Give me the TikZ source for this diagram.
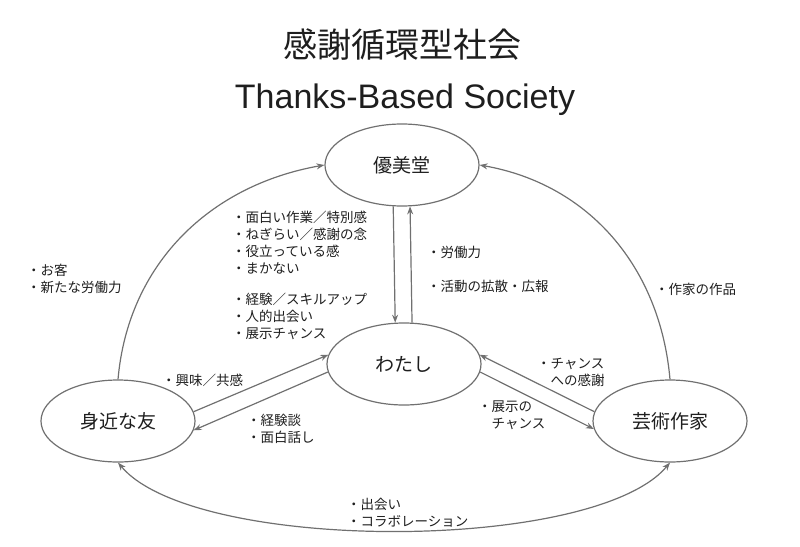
\documentclass[tikz,border=0pt]{standalone}
\usepackage{fontspec}
\setmainfont{Liberation Sans}
\newfontfamily\jp{Noto Sans CJK JP}
\usetikzlibrary{arrows.meta,shapes.geometric}
\definecolor{linegray}{RGB}{112,112,112}
\definecolor{textgray}{RGB}{30,30,30}
\tikzset{
    mybubble/.style={ellipse,draw=linegray,line width=1.2pt,minimum width=154pt,minimum height=82pt,inner sep=0pt,text=textgray,font=\jp\fontsize{19}{19}\selectfont},
    myflow/.style={draw=linegray,line width=1.2pt,-{Stealth[length=8pt,width=6pt]}},
    mynote/.style={anchor=north west,inner sep=0pt,align=left,text=textgray,font=\jp\fontsize{13.5}{16.8}\selectfont}
}

\begin{document}
\begin{tikzpicture}[x=1pt,y=-1pt]
  \useasboundingbox (0,0) rectangle (800,546);
  % titles
  \node[text=textgray,font=\jp\fontsize{34}{34}\selectfont] (title) at (402,45) {感謝循環型社会};
  \node[text=textgray,font=\fontsize{34}{34}\selectfont] (subtitle) at (405,100) {Thanks-Based Society};
  % actors
  \node[mybubble] (yubi) at (402,165) {優美堂};
  \node[mybubble] (watashi) at (404,364) {わたし};
  \node[mybubble] (mijika) at (118,421) {身近な友};
  \node[mybubble] (sakka) at (670,421) {芸術作家};
  % flows
  \draw[myflow] (yubi.-102) -- (watashi.102);
  \draw[myflow] (watashi.79) -- (yubi.-79);
  \draw[myflow] (mijika.7) -- (watashi.173);
  \draw[myflow] (watashi.186) -- (mijika.-7);
  \draw[myflow] (sakka.173) -- (watashi.7);
  \draw[myflow] (watashi.-6) -- (sakka.186);
  \draw[myflow] (mijika.north) to[out=85,in=190] (yubi.west);
  \draw[myflow] (sakka.north) to[out=95,in=-10] (yubi.east);
  \draw[myflow,{Stealth[length=8pt,width=6pt]}-{Stealth[length=8pt,width=6pt]}]
    (mijika.south) to[out=-50,in=-130,looseness=0.55] (sakka.south);
  % notes
  \node[mynote] (work) at (232,211) {・面白い作業／特別感\\・ねぎらい／感謝の念\\・役立っている感\\・まかない};
  \node[mynote] (skill) at (232,293) {・経験／スキルアップ\\・人的出会い\\・展示チャンス};
  \node[mynote] (roudou) at (427,246) {・労働力};
  \node[mynote] (kakusan) at (427,280) {・活動の拡散・広報};
  \node[mynote] (okyaku) at (27,264) {・お客\\・新たな労働力};
  \node[mynote] (sakuhin) at (655,283) {・作家の作品};
  \node[mynote] (kyoumi) at (162,374) {・興味／共感};
  \node[mynote] (keiken) at (247,414) {・経験談\\・面白話し};
  \node[mynote] (kansha) at (537,358) {・チャンス\\\phantom{・}への感謝};
  \node[mynote] (tenji) at (478,401) {・展示の\\\phantom{・}チャンス};
  \node[mynote] (deai) at (347,498) {・出会い\\・コラボレーション};
\end{tikzpicture}
\end{document}
